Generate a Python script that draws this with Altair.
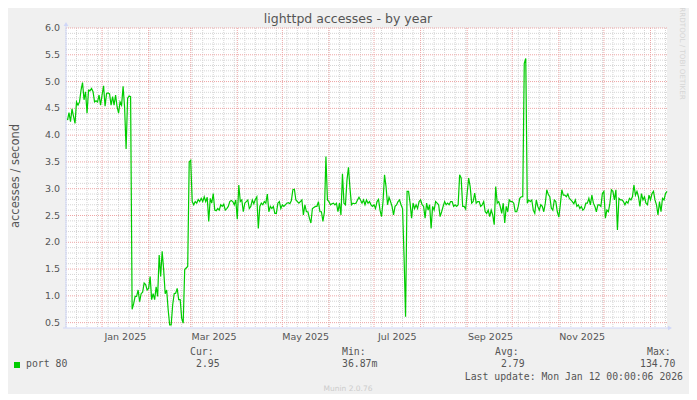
import altair as alt
import pandas as pd

# ---- daily average accesses/second, one value per day from 2024-12-09 ----
rate_dec_jan = [4.28, 4.42, 4.25, 4.49, 4.35, 4.22, 4.62, 4.56, 4.62, 4.84,
                4.98, 4.66, 4.81, 4.41, 4.84, 4.83, 4.87, 4.81, 4.62, 4.64,
                4.62, 4.75, 4.56, 4.75, 4.92, 4.54, 4.78, 4.79, 4.77, 4.56,
                4.72, 4.56, 4.75, 4.53, 4.41, 4.62, 4.56, 4.91, 4.52, 3.74,
                4.69, 4.73, 4.72]
rate_jan_feb = [0.75, 0.85, 0.99, 0.99, 1.11, 0.89, 1.04, 1.07, 1.24, 1.21,
                1.11, 1.14, 1.36, 0.93, 1.04, 0.93, 1.17, 0.99, 1.76, 1.36,
                1.83, 1.49, 1.04, 1.11, 0.74, 0.46, 0.46, 0.83, 1.04, 1.05,
                1.14, 0.93, 0.93, 0.58, 0.49, 1.49, 1.52, 1.55, 3.50, 3.53]
rate_mar_may = [2.76, 2.70, 2.76, 2.73, 2.80, 2.76, 2.82, 2.76, 2.85, 2.76,
                2.84, 2.39, 2.82, 2.73, 2.91, 2.60, 2.59, 2.63, 2.60, 2.70,
                2.67, 2.71, 2.60, 2.63, 2.67, 2.76, 2.78, 2.76, 2.70, 2.79,
                2.43, 3.07, 2.76, 2.79, 2.57, 2.73, 2.76, 2.79, 2.63, 2.67,
                2.79, 2.72, 2.80, 2.85, 2.26, 2.67, 2.73, 2.70, 2.76, 2.73,
                2.90, 2.57, 2.67, 2.63, 2.67, 2.54, 2.54, 2.73, 2.76, 2.63,
                2.70, 2.67, 2.70, 2.73, 2.74, 2.72, 2.78, 2.98, 2.99, 2.79,
                2.76, 2.73, 2.76, 2.79, 2.51, 2.70, 2.57, 2.57, 2.45, 2.36]
rate_may_aug = [2.63, 2.65, 2.67, 2.67, 2.76, 2.57, 2.57, 2.39, 2.57, 3.60,
                2.79, 2.76, 2.70, 2.72, 2.73, 2.70, 2.73, 2.57, 2.73, 2.51,
                3.28, 2.73, 2.70, 3.16, 3.40, 3.01, 2.70, 2.73, 2.72, 2.73,
                2.79, 2.84, 2.79, 2.73, 2.79, 2.70, 2.79, 2.73, 2.76, 2.70,
                2.67, 2.70, 2.63, 2.76, 2.80, 2.60, 2.48, 2.76, 3.26, 3.04,
                2.70, 2.84, 2.76, 2.67, 2.51, 2.67, 2.70, 2.76, 2.79, 2.70,
                2.63, 1.73, 0.61, 2.95, 2.95, 2.73, 2.45, 2.73, 2.63, 2.70,
                2.63, 2.76, 2.79, 2.70, 2.67, 2.45, 2.73, 2.60, 2.70]
rate_aug_oct = [2.26, 2.67, 2.60, 2.76, 2.73, 2.70, 2.48, 2.57, 2.67, 2.76,
                2.70, 2.73, 2.70, 2.76, 2.76, 2.67, 2.70, 2.67, 2.70, 3.26,
                3.20, 2.67, 2.67, 2.62, 2.92, 3.20, 3.04, 2.73, 2.76, 2.92,
                2.73, 2.76, 2.76, 2.67, 2.70, 2.76, 2.57, 2.54, 2.60, 2.48,
                2.60, 2.51, 2.33, 3.04, 2.73, 2.76, 2.67, 2.54, 2.73, 2.36,
                2.67, 2.57, 2.79, 2.76, 2.76, 2.73, 2.57, 2.57, 2.67, 2.82,
                2.85, 2.85, 5.34, 5.43, 2.73, 2.79, 2.76, 2.79, 2.60, 2.54,
                2.79, 2.67, 2.60, 2.70, 2.67, 2.57, 2.73, 2.98, 2.89, 2.85,
                2.64]
rate_oct_jan = [2.60, 2.79, 2.76, 2.57, 2.47, 2.70, 2.98, 2.88, 2.88, 2.85,
                2.90, 2.82, 2.79, 2.76, 2.72, 2.79, 2.67, 2.70, 2.63, 2.67,
                2.60, 2.63, 2.73, 2.73, 2.82, 2.70, 2.88, 2.73, 2.67, 2.57,
                2.70, 2.70, 2.67, 2.91, 2.95, 2.45, 2.60, 2.57, 2.73, 2.98,
                2.95, 2.79, 2.98, 2.23, 2.82, 2.79, 2.79, 2.76, 2.70, 2.76,
                2.73, 2.82, 2.79, 2.85, 3.07, 2.88, 2.95, 2.85, 2.67, 2.91,
                2.79, 2.85, 2.73, 2.70, 2.88, 2.79, 2.91, 2.95, 2.79, 2.70,
                2.51, 2.76, 2.57, 2.82, 2.79, 2.91, 2.95]

first_day = "2024-12-09"

# ---- axis / grid values ----
y_major = [0.5, 1.0, 1.5, 2.0, 2.5, 3.0, 3.5, 4.0, 4.5, 5.0, 5.5, 6.0]
y_minor = [round(v / 10, 1) for v in range(5, 61) if v % 5 != 0]
month_label_dates = ["2025-01-16T12:00:00", "2025-03-16T12:00:00", "2025-05-16T12:00:00",
                     "2025-07-16T12:00:00", "2025-09-16T12:00:00", "2025-11-16T12:00:00"]

# ---- texts ----
title_text = "lighttpd accesses - by year"
y_title = "accesses / second"
series_name = "port 80"
stat_headers = ["Cur:", "Min:", "Avg:", "Max:"]
stat_values = ["2.95", "36.87m", "2.79", "134.70"]
last_update = "Last update: Mon Jan 12 00:00:06 2026"
credit = "Munin 2.0.76"
side_text = "RRDTOOL / TOBI OETIKER"

# ---- styles ----
FONT = "#555555"
GREEN = "#00CC00"
AXIS = "#CFD6F8"
GRID = "#D4D4D4"
MGRID = "#EDA5A5"
SANS = "DejaVu Sans"
MONO = "DejaVu Sans Mono"

rate = rate_dec_jan + rate_jan_feb + rate_mar_may + rate_may_aug + rate_aug_oct + rate_oct_jan
df = pd.DataFrame({"date": pd.date_range(first_day, periods=len(rate), freq="D"), "rate": rate})

weeks = pd.DataFrame({"date": pd.date_range("2024-12-08", "2026-01-11", freq="W-SUN")})
months = pd.DataFrame({"date": pd.date_range("2025-01-01", "2026-01-01", freq="MS")})
xlabels = pd.DataFrame({"date": pd.to_datetime(month_label_dates)})
ylabels = pd.DataFrame({"v": y_major})

xs = alt.Scale(domain=[alt.DateTime(year=2024, month=12, date=8),
                       alt.DateTime(year=2026, month=1, date=12)])
ys = alt.Scale(domain=[0.4, 6.0], nice=False, zero=False)

minor_v = alt.Chart(weeks).mark_rule(color=GRID, strokeDash=[1, 1], strokeWidth=1).encode(
    x=alt.X("date:T", scale=xs, axis=None))
minor_h = alt.Chart(pd.DataFrame({"v": y_minor})).mark_rule(color=GRID, strokeDash=[1, 1], strokeWidth=1).encode(
    y=alt.Y("v:Q", scale=ys, axis=None))
major_v = alt.Chart(months).mark_rule(color=MGRID, strokeDash=[1, 1], strokeWidth=1).encode(
    x=alt.X("date:T", scale=xs, axis=None))
major_h = alt.Chart(ylabels).mark_rule(color=MGRID, strokeDash=[1, 1], strokeWidth=1).encode(
    y=alt.Y("v:Q", scale=ys, axis=None))

line = alt.Chart(df).mark_line(color=GREEN, strokeWidth=1.2).encode(
    x=alt.X("date:T", scale=xs, axis=None),
    y=alt.Y("rate:Q", scale=ys, axis=None))

# tick labels placed through the same scales
x_tick_labels = alt.Chart(xlabels).mark_text(font=SANS, fontSize=9.5, color=FONT,
                                              align="center", baseline="middle").encode(
    x=alt.X("date:T", scale=xs, axis=None),
    y=alt.value(309),
    text=alt.Text("date:T", format="%b %Y"))
y_tick_labels = alt.Chart(ylabels).mark_text(font=SANS, fontSize=9.5, color=FONT,
                                              align="right", baseline="middle").encode(
    y=alt.Y("v:Q", scale=ys, axis=None),
    x=alt.value(-6),
    text=alt.Text("v:Q", format=".1f"))

one = pd.DataFrame({"k": [0]})

def txt(s, x, y, size, font=SANS, color=FONT, align="left", angle=0):
    return alt.Chart(one).mark_text(text=s, font=font, fontSize=size, color=color,
                                    align=align, baseline="middle", angle=angle).encode(
        x=alt.value(x), y=alt.value(y))

y_axis_line = alt.Chart(one).mark_rule(color=AXIS, strokeWidth=1).encode(
    x=alt.value(0), y=alt.value(-4), y2=alt.value(300))
x_axis_line = alt.Chart(one).mark_rule(color=AXIS, strokeWidth=1).encode(
    x=alt.value(-3), x2=alt.value(603), y=alt.value(300))
up_arrow = alt.Chart(one).mark_point(shape="triangle-up", filled=True, color=AXIS, size=22, opacity=1).encode(
    x=alt.value(0), y=alt.value(-4))
right_arrow = alt.Chart(one).mark_point(shape="triangle-right", filled=True, color=AXIS, size=22, opacity=1).encode(
    x=alt.value(604), y=alt.value(300))

legend_box = alt.Chart(one).mark_rect(color=GREEN).encode(
    x=alt.value(-52), x2=alt.value(-46), y=alt.value(334), y2=alt.value(340))

texts = [
    txt(title_text, 282, -9, 12.5, align="center"),
    txt(y_title, -50, 148, 11.5, align="center", angle=270),
    txt(side_text, 616, 25.5, 7.2, color="#D6D6D6", align="center", angle=90),
    txt(series_name, -40, 336, 9.8, font=MONO),
    txt(stat_headers[0], 124, 324, 9.8, font=MONO),
    txt(stat_values[0], 130, 336, 9.8, font=MONO),
    txt(stat_headers[1], 276, 324, 9.8, font=MONO),
    txt(stat_values[1], 276, 336, 9.8, font=MONO),
    txt(stat_headers[2], 429, 324, 9.8, font=MONO),
    txt(stat_values[2], 435, 336, 9.8, font=MONO),
    txt(stat_headers[3], 581, 324, 9.8, font=MONO),
    txt(stat_values[3], 574, 336, 9.8, font=MONO),
    txt(last_update, 617, 348.5, 9.8, font=MONO, align="right"),
    txt(credit, 282, 361, 7.5, color="#CCCCCC", align="center"),
]

chart = alt.layer(
    minor_v, minor_h, major_v, major_h, line, x_tick_labels, y_tick_labels,
    y_axis_line, x_axis_line, up_arrow, right_arrow, legend_box, *texts
).properties(
    width=601, height=300,
    background="#F0F0F0",
    padding={"left": 58, "top": 20, "right": 22, "bottom": 66},
    autosize=alt.AutoSizeParams(type="none"),
).configure_view(fill="white", stroke=None)

chart.save("out.html", embed_options={"renderer": "svg", "actions": False})
